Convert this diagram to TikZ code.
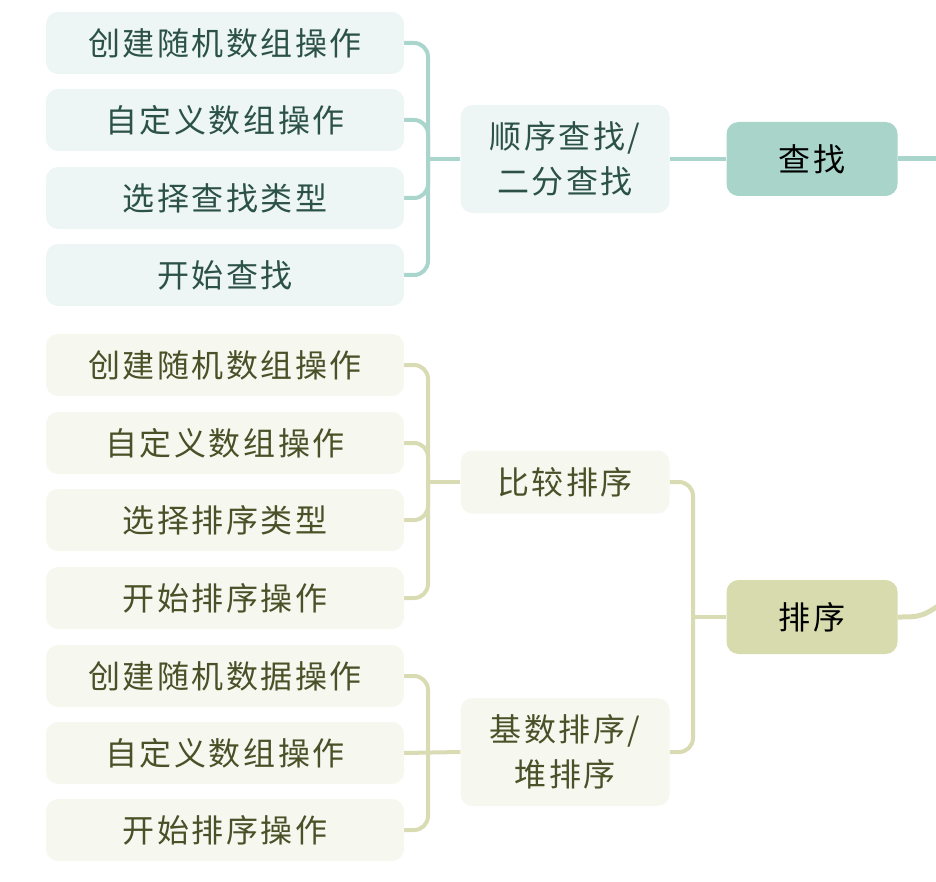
\documentclass[tikz,border=0pt]{standalone}
\usepackage{fontspec}
\setmainfont{Noto Sans CJK SC}[LetterSpace=8]
\usetikzlibrary{backgrounds}

\definecolor{findline}{HTML}{A9D5CC}
\definecolor{findfill}{HTML}{A8D4CA}
\definecolor{findlight}{HTML}{EDF6F4}
\definecolor{findtext}{HTML}{2C5248}
\definecolor{sortline}{HTML}{D9DCB3}
\definecolor{sortfill}{HTML}{D8DBAE}
\definecolor{sortlight}{HTML}{F6F7EF}
\definecolor{sorttext}{HTML}{4A5027}

\tikzset{
    box/.style={rounded corners=12pt, inner sep=0pt, align=center,
        font=\fontsize{32}{45}\selectfont},
    leaf/.style={box, minimum width=358pt, minimum height=62pt},
    mid/.style={box, minimum width=209pt},
    top/.style={box, minimum width=171pt, minimum height=74pt, text=black},
    findleaf/.style={leaf, fill=findlight, text=findtext},
    sortleaf/.style={leaf, fill=sortlight, text=sorttext},
    link/.style={line width=4pt, rounded corners=14pt},
}

\begin{document}
\begin{tikzpicture}[x=1pt, y=-1pt]
    \useasboundingbox (0,0) rectangle (936,882);

    % Roots
    \node[top, fill=findfill] (find) at (812,159) {查找};
    \node[top, fill=sortfill] (sort) at (812,617) {排序};

    % Middle
    \node[mid, minimum height=108pt, fill=findlight, text=findtext] (seq) at (565,159) {顺序查找/\\二分查找};
    \node[mid, minimum height=63pt, fill=sortlight, text=sorttext] (cmp) at (565,482) {比较排序};
    \node[mid, minimum height=108pt, fill=sortlight, text=sorttext] (radix) at (565,752) {基数排序/\\堆排序};

    % Leaves
    \node[findleaf] (f1) at (225,43)  {创建随机数组操作};
    \node[findleaf] (f2) at (225,120) {自定义数组操作};
    \node[findleaf] (f3) at (225,198) {选择查找类型};
    \node[findleaf] (f4) at (225,275) {开始查找};
    \node[sortleaf] (c1) at (225,365) {创建随机数组操作};
    \node[sortleaf] (c2) at (225,443) {自定义数组操作};
    \node[sortleaf] (c3) at (225,520) {选择排序类型};
    \node[sortleaf] (c4) at (225,598) {开始排序操作};
    \node[sortleaf] (r1) at (225,676) {创建随机数据操作};
    \node[sortleaf] (r2) at (225,753) {自定义数组操作};
    \node[sortleaf] (r3) at (225,830) {开始排序操作};

    \coordinate (findroot) at (950,159);
    \coordinate (sortroot) at (950,598);

    % Lines
    \begin{pgfonlayer}{background}
    \draw[link, findline, line width=5pt] (find.east) -- (findroot);
    \draw[link, sortline, line width=5pt] (sort.east) .. controls (922,617) .. (sortroot);
    \draw[link, findline] (seq.east) -- (find.west);
    \draw[link, sortline] (cmp.east) -| (693,619);
    \draw[link, sortline] (radix.east) -| (693,615);
    \draw[link, sortline] (691,617) -- (sort.west);

    \foreach \n in {f1,f2,f3,f4}
        \draw[link, findline] (\n.east) -| (428,159);
    \draw[link, findline] (seq.west) -- (426,159);

    \foreach \n in {c1,c2,c3,c4}
        \draw[link, sortline] (\n.east) -| (428,482);
    \draw[link, sortline] (cmp.west) -- (426,482);

    \foreach \n in {r1,r3}
        \draw[link, sortline] (\n.east) -| (428,752);
    \draw[link, sortline] (r2.east) -- (radix.west);
    \end{pgfonlayer}
\end{tikzpicture}
\end{document}
